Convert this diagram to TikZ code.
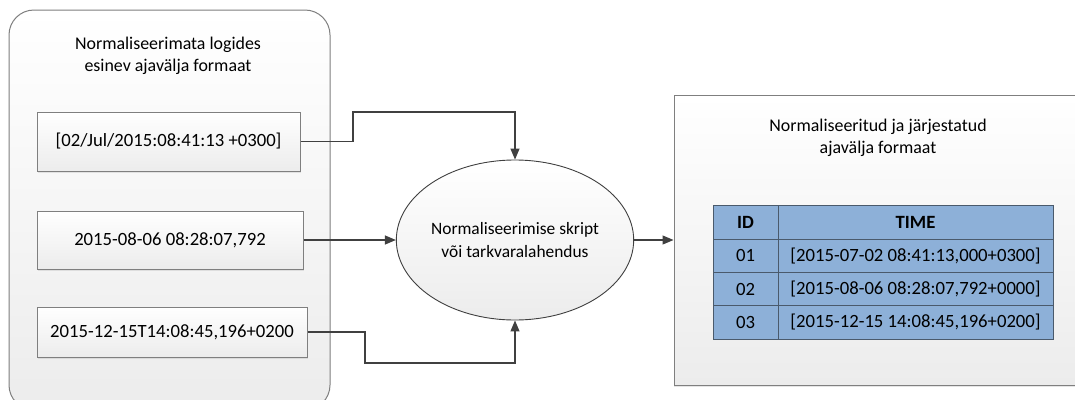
\documentclass[tikz,border=0pt]{standalone}
\usepackage{fontspec}
\setmainfont{Carlito}
\usetikzlibrary{arrows.meta,shapes.geometric,shadows}

\definecolor{linegray}{HTML}{404040}
\definecolor{edgegray}{HTML}{7F7F7F}
\definecolor{cellblue}{HTML}{8DB0D8}
\definecolor{celledge}{HTML}{4A5A6C}
\definecolor{panelbot}{HTML}{ECECEC}

\tikzset{
  txt/.style={font=\fontsize{18.7}{22.5}\selectfont, text=black},
  titletxt/.style={font=\fontsize{17.9}{22}\selectfont, text=black, align=center},
  panel/.style={draw=edgegray, line width=1pt, top color=white, bottom color=panelbot,
    inner sep=0pt},
  valbox/.style={panel, draw=edgegray, line width=1pt,
    drop shadow={opacity=0.18, shadow xshift=1.2pt, shadow yshift=-1.5pt},
    txt},
  procnode/.style={ellipse, draw=linegray, line width=0.9pt, top color=white,
    bottom color=panelbot, inner sep=0pt, align=center,
    font=\fontsize{17.4}{23.5}\selectfont, text=black},
  cell/.style={draw=celledge, line width=1pt, fill=cellblue, inner sep=0pt, txt},
  conn/.style={draw=linegray, line width=1.2pt,
    -{Triangle[length=11pt,width=9pt]}},
}

\begin{document}
\begin{tikzpicture}[x=1pt,y=-1pt]
  \clip (0,0) rectangle (1075,399);
  \fill[white] (0,0) rectangle (1075,399);

  % source container with the three raw timestamp formats
  \node[panel, rounded corners=25pt, minimum width=321pt, minimum height=400pt]
    (src) at (169.5,210) {};
  \node[titletxt] (srctitle) at (168,56)
    {Normaliseerimata logides\\esinev ajavälja formaat};

  \node[valbox, minimum width=263pt, minimum height=59pt] (b1) at (168.5,141.5)
    {[02/Jul/2015:08:41:13 +0300]};
  \node[valbox, minimum width=266pt, minimum height=58pt] (b2) at (170,240)
    {2015-08-06 08:28:07,792};
  \node[valbox, minimum width=270pt, minimum height=50pt] (b3) at (172,332)
    {2015-12-15T14:08:45,196+0200};

  % normalisation step
  \node[procnode, minimum width=236pt, minimum height=160pt] (proc) at (515,240)
    {Normaliseerimise skript\\või tarkvaralahendus};

  % target container with the normalised table
  \node[panel, minimum width=413pt, minimum height=290pt,
    drop shadow={opacity=0.2, shadow xshift=0pt, shadow yshift=-1.5pt}]
    (dst) at (880.5,240) {};
  \node[titletxt] (dsttitle) at (878,138)
    {Normaliseeritud ja järjestatud\\ajavälja formaat};

  % table cells
  \node[cell, minimum width=65pt, minimum height=33.25pt] (h1) at (745.5,222.6) {\textbf{ID}};
  \node[cell, minimum width=275pt, minimum height=33.25pt] (h2) at (915.5,222.6) {\textbf{TIME}};
  \node[cell, minimum width=65pt, minimum height=33.25pt] (r1a) at (745.5,255.9) {01};
  \node[cell, minimum width=275pt, minimum height=33.25pt] (r1b) at (915.5,255.9) {[2015-07-02 08:41:13,000+0300]};
  \node[cell, minimum width=65pt, minimum height=33.25pt] (r2a) at (745.5,289.1) {02};
  \node[cell, minimum width=275pt, minimum height=33.25pt] (r2b) at (915.5,289.1) {[2015-08-06 08:28:07,792+0000]};
  \node[cell, minimum width=65pt, minimum height=33.25pt] (r3a) at (745.5,322.4) {03};
  \node[cell, minimum width=275pt, minimum height=33.25pt] (r3b) at (915.5,322.4) {[2015-12-15 14:08:45,196+0200]};

  % connectors
  \coordinate (k1) at (353,112);
  \coordinate (k3) at (365,363);
  \draw[conn] (b1.east) -| (k1) -| (proc.north);
  \draw[conn] (b2.east) -- (proc.west);
  \draw[conn] (b3.east) -| (k3) -| (proc.south);
  \draw[conn] (proc.east) -- (dst.west);
\end{tikzpicture}
\end{document}
